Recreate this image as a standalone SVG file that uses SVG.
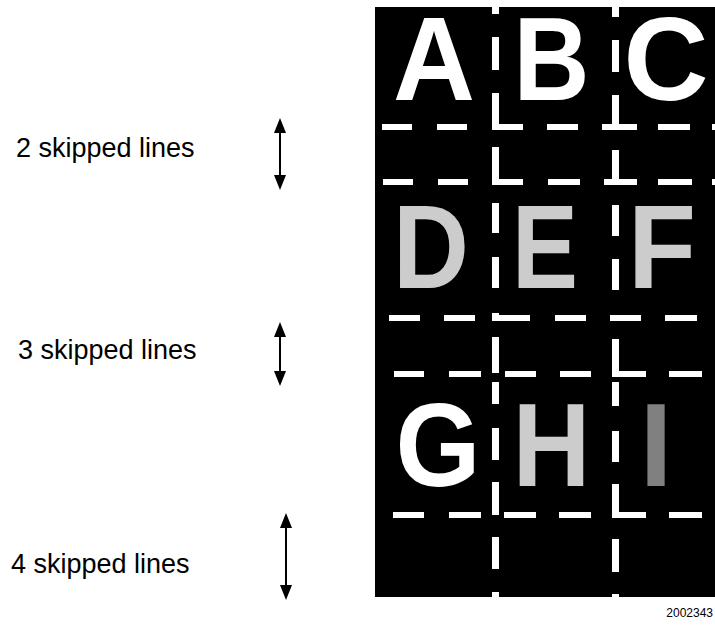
<svg xmlns="http://www.w3.org/2000/svg" width="715" height="627" viewBox="0 0 715 627">
<style>
.lbl{font-family:"Liberation Sans",Arial,sans-serif;font-size:27px;fill:#000}
.big{font-family:"Liberation Sans",Arial,sans-serif;font-size:119px;font-weight:bold;text-anchor:middle}
.w{fill:#fff}
.g{fill:#cccccc}
.d{fill:#808080}
.arr{stroke:#000;stroke-width:2;fill:none}
</style>
<defs>
<marker id="ah" viewBox="0 0 15 12" refX="1" refY="6" markerWidth="15" markerHeight="12" markerUnits="userSpaceOnUse" orient="auto-start-reverse">
<path d="M0,0 L15,6 L0,12 z" fill="#000"/>
</marker>
</defs>
<rect x="375" y="7" width="340" height="590" fill="#000"/>
<g id="letters">
<text class="big w" x="434" y="100" textLength="82" lengthAdjust="spacingAndGlyphs">A</text>
<text class="big w" x="551.5" y="100" textLength="76" lengthAdjust="spacingAndGlyphs">B</text>
<text class="big w" x="666" y="100" textLength="85" lengthAdjust="spacingAndGlyphs">C</text>
<text class="big g" x="431" y="288" textLength="76" lengthAdjust="spacingAndGlyphs">D</text>
<text class="big g" x="545" y="288" textLength="66" lengthAdjust="spacingAndGlyphs">E</text>
<text class="big g" x="662" y="288" textLength="68" lengthAdjust="spacingAndGlyphs">F</text>
<text class="big w" x="438" y="486" textLength="85" lengthAdjust="spacingAndGlyphs">G</text>
<text class="big g" x="551.5" y="486" textLength="78" lengthAdjust="spacingAndGlyphs">H</text>
<text class="big d" x="656" y="486">I</text>
</g>
<g id="grid" fill="#fff">
<rect x="492" y="7" width="7" height="7"/>
<rect x="492" y="37" width="7" height="33"/>
<rect x="492" y="93" width="7" height="37"/>
<rect x="492" y="147" width="7" height="38"/>
<rect x="492" y="203" width="7" height="30"/>
<rect x="492" y="257" width="7" height="31"/>
<rect x="492" y="313" width="7" height="7"/>
<rect x="492" y="337" width="7" height="36"/>
<rect x="492" y="382" width="7" height="22"/>
<rect x="492" y="428" width="7" height="32"/>
<rect x="492" y="482" width="7" height="33"/>
<rect x="492" y="537" width="7" height="32"/>
<rect x="492" y="592" width="7" height="5"/>
<rect x="612" y="7" width="7" height="10"/>
<rect x="612" y="40" width="7" height="32"/>
<rect x="612" y="95" width="7" height="35"/>
<rect x="612" y="150" width="7" height="35"/>
<rect x="612" y="205" width="7" height="31"/>
<rect x="612" y="259" width="7" height="31"/>
<rect x="612" y="339" width="7" height="38"/>
<rect x="612" y="382" width="7" height="24"/>
<rect x="612" y="431" width="7" height="31"/>
<rect x="612" y="484" width="7" height="34"/>
<rect x="612" y="539" width="7" height="33"/>
<rect x="612" y="594" width="7" height="3"/>
<rect x="382" y="124" width="30" height="6"/>
<rect x="437" y="124" width="30" height="6"/>
<rect x="492" y="124" width="31" height="6"/>
<rect x="547" y="124" width="31" height="6"/>
<rect x="602" y="124" width="35" height="6"/>
<rect x="658" y="124" width="32" height="6"/>
<rect x="712" y="124" width="3" height="6"/>
<rect x="383" y="179" width="30" height="6"/>
<rect x="438" y="179" width="30" height="6"/>
<rect x="492" y="179" width="31" height="6"/>
<rect x="548" y="179" width="32" height="6"/>
<rect x="604" y="179" width="33" height="6"/>
<rect x="658" y="179" width="34" height="6"/>
<rect x="712" y="179" width="3" height="6"/>
<rect x="389" y="315" width="31" height="6"/>
<rect x="444" y="315" width="31" height="6"/>
<rect x="492" y="315" width="38" height="6"/>
<rect x="555" y="315" width="31" height="6"/>
<rect x="610" y="315" width="31" height="6"/>
<rect x="665" y="315" width="32" height="6"/>
<rect x="394" y="371" width="30" height="6"/>
<rect x="449" y="371" width="32" height="6"/>
<rect x="505" y="371" width="31" height="6"/>
<rect x="560" y="371" width="31" height="6"/>
<rect x="612" y="371" width="34" height="6"/>
<rect x="669" y="371" width="33" height="6"/>
<rect x="393" y="512" width="31" height="6"/>
<rect x="449" y="512" width="32" height="6"/>
<rect x="504" y="512" width="32" height="6"/>
<rect x="559" y="512" width="32" height="6"/>
<rect x="612" y="512" width="34" height="6"/>
<rect x="669" y="512" width="33" height="6"/>
</g>
<g id="labels">
<text class="lbl" x="16" y="157">2 skipped lines</text>
<text class="lbl" x="18" y="359">3 skipped lines</text>
<text class="lbl" x="11" y="573">4 skipped lines</text>
<text x="713" y="617" font-family="'Liberation Sans',Arial,sans-serif" font-size="12" text-anchor="end" fill="#000">2002343</text>
</g>
<g id="connectors">
<line class="arr" x1="280" y1="132" x2="280" y2="176" marker-start="url(#ah)" marker-end="url(#ah)"/>
<line class="arr" x1="280" y1="336" x2="280" y2="372" marker-start="url(#ah)" marker-end="url(#ah)"/>
<line class="arr" x1="286" y1="527" x2="286" y2="586" marker-start="url(#ah)" marker-end="url(#ah)"/>
</g>
</svg>
